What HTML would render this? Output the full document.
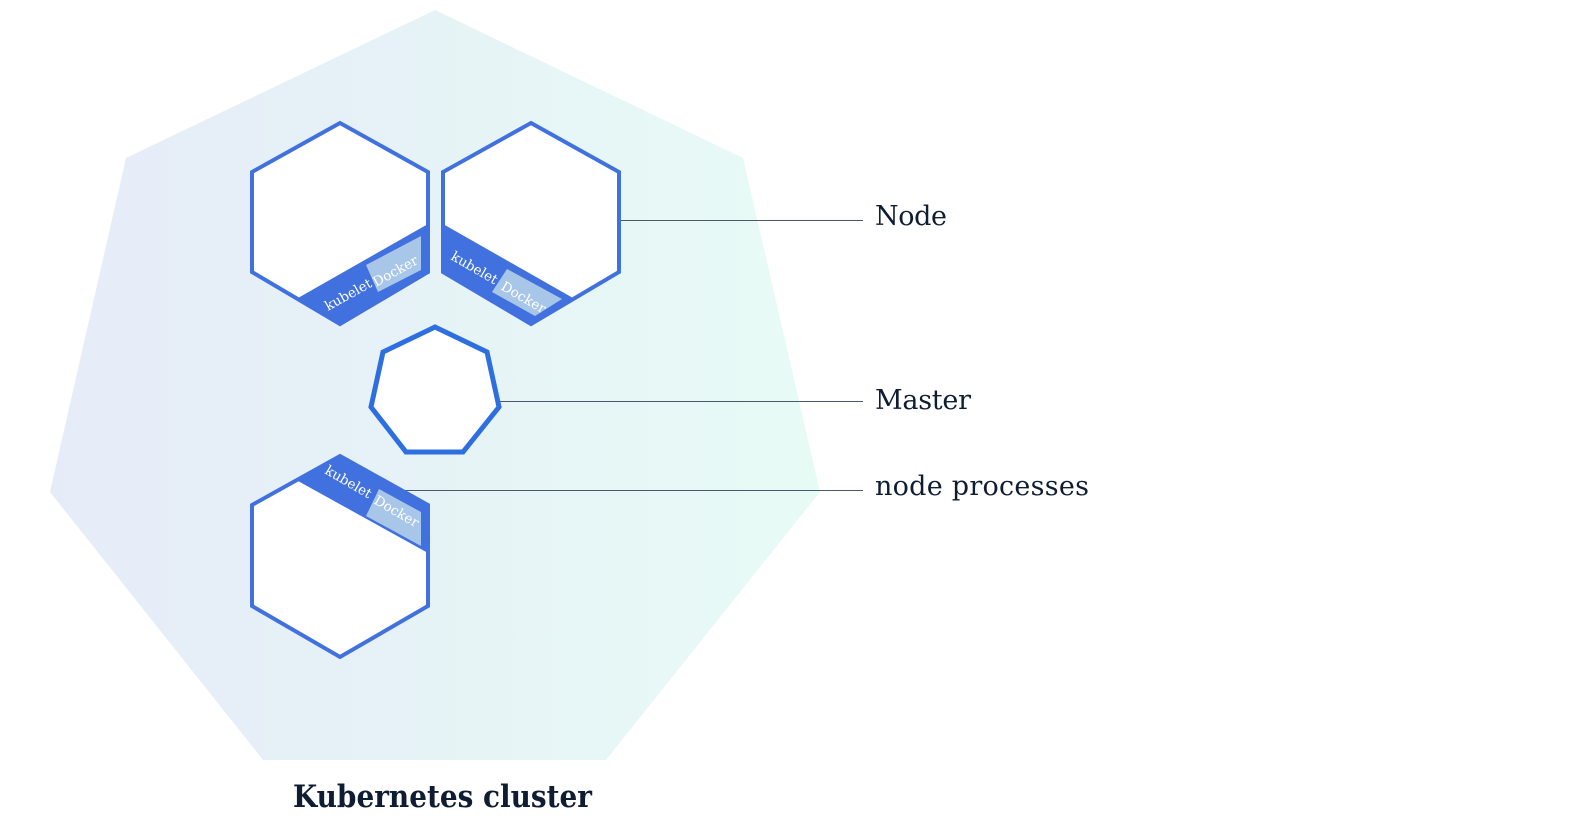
<!DOCTYPE html>
<html><head><style>
html,body{margin:0;padding:0;background:#fff;}
svg{display:block;}
</style></head><body>
<svg width="1580" height="824" viewBox="0 0 1580 824" xmlns="http://www.w3.org/2000/svg">
<defs>
<linearGradient id="g" x1="0" y1="0" x2="1" y2="0">
<stop offset="0" stop-color="#e6ebf8"/>
<stop offset="1" stop-color="#e7fbf5"/>
</linearGradient>
</defs>
<polygon points="435,10 743,158 820,492 606,760 263,760 50,492 126,158" fill="url(#g)"/>
<g stroke="#4a5a6e" stroke-width="1">
<line x1="619" y1="220.5" x2="863" y2="220.5"/>
<line x1="473" y1="401.5" x2="863" y2="401.5"/>
<line x1="405" y1="490.5" x2="863" y2="490.5"/>
</g>
<!-- hex 1 -->
<polygon points="340,123 428,172 428,272 340,324 252,272 252,172" fill="#fff" stroke="#4171de" stroke-width="4"/>
<polygon points="298,298 428,224 428,272 340,324" fill="#4171de"/>
<polygon points="366,265 421,236 421,270 378,292" fill="#a8c6e8"/>
<text transform="translate(328,311) rotate(-29)" font-family="DejaVu Serif, serif" font-size="13.5" fill="#fff">kubelet</text>
<text transform="translate(376,287) rotate(-29)" font-family="DejaVu Serif, serif" font-size="13.5" fill="#fff">Docker</text>
<!-- hex 2 -->
<polygon points="531,123 619,172 619,272 531,324 443,272 443,172" fill="#fff" stroke="#4171de" stroke-width="4"/>
<polygon points="443,224 573,298 531,324 443,272" fill="#4171de"/>
<polygon points="507,269 562,299 535,316 492,292" fill="#a8c6e8"/>
<text transform="translate(450,259) rotate(30)" font-family="DejaVu Serif, serif" font-size="13.5" fill="#fff">kubelet</text>
<text transform="translate(500,289) rotate(30)" font-family="DejaVu Serif, serif" font-size="13.5" fill="#fff">Docker</text>
<!-- master -->
<polygon points="435,327 487,352 499,407 463,452 406,452 371,407 383,352" fill="#fff" stroke="#2d6fe0" stroke-width="5"/>
<!-- hex 3 -->
<polygon points="340,456 428,505 428,606 340,657 252,606 252,505" fill="#fff" stroke="#4171de" stroke-width="4"/>
<polygon points="298,481 340,456 428,506 428,553" fill="#4171de"/>
<polygon points="379,489 421,512 421,546 366,516" fill="#a8c6e8"/>
<text transform="translate(324,473) rotate(30)" font-family="DejaVu Serif, serif" font-size="13.5" fill="#fff">kubelet</text>
<text transform="translate(373,503) rotate(30)" font-family="DejaVu Serif, serif" font-size="13.5" fill="#fff">Docker</text>
<g font-family="DejaVu Serif, serif" font-size="27" fill="#0f1d33">
<text x="875" y="225" textLength="72">Node</text>
<text x="875" y="409" textLength="96">Master</text>
<text x="875" y="495" textLength="214">node processes</text>
</g>
<text x="293" y="807" font-family="DejaVu Serif, serif" font-size="31" font-weight="bold" fill="#0f1d33" textLength="299" lengthAdjust="spacingAndGlyphs">Kubernetes cluster</text>
</svg>
</body></html>
